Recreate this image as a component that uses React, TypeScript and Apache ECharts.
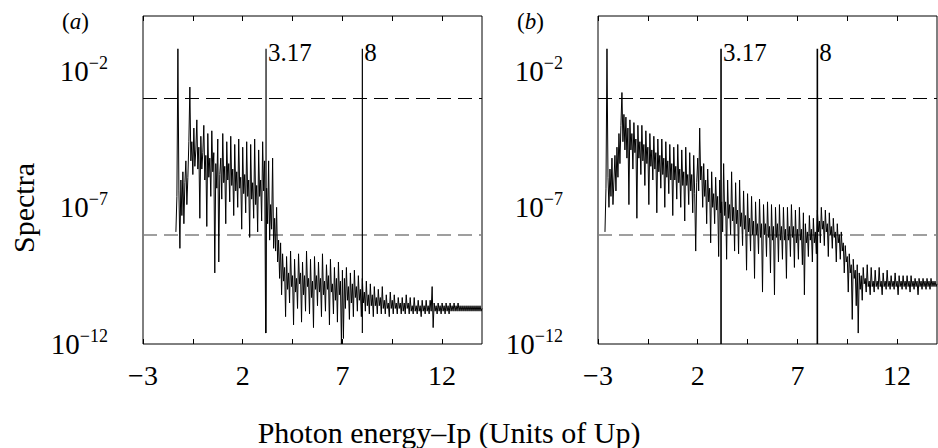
import React, { useEffect, useRef } from "react";
import * as echarts from "echarts";

// Axis settings (x in units of Up, y as log10 of the spectrum)
const X_MIN = -3;
const X_MAX = 14;
const X_LABELS = [-3, 2, 7, 12];
const X_TICKS = [-3, -0.5, 2, 4.5, 7, 9.5, 12];
const Y_MIN = -12;
const Y_MAX = 0;
const Y_LABELS = [-12, -7, -2];
const REF_LEVELS = [-3, -8];

// Cut-off markers
const MARKERS = [3.17, 8];
const MARKER_NAMES = ["3.17", "8"];
const MARKER_TOP = -1.2;
const MARKER_BOTTOM_A = -11.6;
const MARKER_BOTTOM_B = -12;

// Spectra, log10 values on a uniform energy grid (one row = 1 unit of Up)
const STEP = 0.05;
const A_START = -1.35;
const A_LOG = [
  -7.9, -6.6, -1.2, -6.4, -8.5, -6.0, -7.3, -5.7, -7.6, -6.1, -5.3, -6.9, -5.9, -4.6, -2.6, -5.3, -4.6, -5.8, -4.1, -5.5,
  -4.9, -3.8, -5.6, -4.8, -7.4, -4.4, -5.6, -5.0, -4.0, -6.0, -5.1, -7.7, -4.3, -5.9, -5.2, -6.6, -4.2, -5.7, -5.0, -9.4,
  -5.4, -6.3, -4.5, -9.0, -5.8, -5.2, -6.7, -4.3, -6.1, -5.5, -7.6, -4.6, -6.0, -5.4, -6.8, -4.4, -6.2, -5.6, -7.3, -4.7,
  -6.4, -5.7, -7.0, -4.5, -6.3, -5.9, -7.8, -4.8, -6.5, -5.8, -7.2, -4.6, -6.6, -6.0, -8.1, -4.7, -6.7, -6.1, -7.4, -4.5,
  -6.9, -6.2, -7.9, -4.9, -6.6, -6.0, -7.5, -4.6, -6.4, -5.3, -11.6, -6.3, -7.6, -5.3, -8.2, -6.9, -7.8, -5.2, -8.5, -7.4,
  -8.6, -7.0, -9.0, -8.2, -9.6, -8.3, -10.2, -8.7, -9.7, -9.2, -11.0, -8.8, -10.0, -9.4, -10.5, -8.6, -9.9, -9.5, -11.3, -8.9,
  -10.1, -9.6, -10.7, -8.7, -9.8, -9.4, -11.2, -9.0, -10.2, -9.5, -10.8, -8.6, -9.9, -9.6, -10.9, -8.9, -10.3, -9.7, -11.4, -8.8,
  -10.0, -9.5, -10.6, -9.0, -10.1, -9.6, -11.0, -8.7, -10.2, -9.7, -10.8, -9.1, -10.0, -9.5, -11.3, -8.9, -10.1, -9.8, -10.9, -9.2,
  -10.4, -9.6, -11.2, -9.0, -10.2, -9.7, -12.0, -9.3, -11.8, -9.6, -10.7, -9.2, -10.4, -9.9, -11.1, -9.4, -10.5, -9.8, -11.0, -9.3,
  -10.3, -9.9, -10.8, -9.5, -10.4, -10.0, -11.0, -9.6, -10.5, -10.1, -10.8, -9.7, -10.6, -10.2, -10.9, -9.8, -10.6, -10.2, -11.0, -9.9,
  -10.6, -10.3, -10.9, -10.0, -10.6, -10.3, -10.9, -9.9, -10.7, -10.4, -10.9, -10.2, -10.7, -10.5, -11.0, -10.1, -10.7, -10.4, -10.9, -10.2,
  -10.7, -10.5, -10.9, -10.3, -10.7, -10.5, -10.9, -10.3, -10.8, -10.5, -10.9, -10.2, -10.7, -10.5, -10.9, -10.3, -10.8, -10.6, -10.9, -10.3,
  -10.8, -10.6, -10.9, -10.4, -10.8, -10.6, -11.0, -10.4, -10.8, -10.6, -10.9, -10.4, -10.8, -10.6, -10.9, -10.4, -10.8, -9.9, -11.4, -10.5,
  -10.8, -10.6, -10.9, -10.5, -10.8, -10.6, -10.9, -10.5, -10.8, -10.6, -10.9, -10.5, -10.8, -10.6, -10.9, -10.5, -10.8, -10.6, -10.8, -10.5,
  -10.8, -10.6, -10.8, -10.5, -10.8, -10.6, -10.8, -10.6, -10.8, -10.6, -10.8, -10.6, -10.8, -10.6, -10.8, -10.6, -10.8, -10.6, -10.8, -10.6,
  -10.8, -10.6, -10.8, -10.6, -10.8, -10.6, -10.8, -10.7,
];
const B_START = -2.65;
const B_LOG = [
  -7.9, -6.3, -1.2, -5.9, -7.0, -5.6, -6.6, -5.2, -6.9, -6.0, -5.1, -6.4, -4.8, -5.9, -4.3, -5.4, -4.0, -2.8, -4.6, -3.6,
  -4.9, -3.7, -5.2, -4.1, -6.9, -3.8, -4.9, -4.3, -5.6, -3.9, -5.0, -4.5, -7.4, -4.0, -5.2, -4.6, -5.8, -4.0, -5.3, -4.7,
  -6.2, -4.2, -5.4, -4.8, -6.9, -4.3, -5.5, -4.9, -6.0, -4.4, -5.6, -5.0, -7.2, -4.5, -5.7, -5.1, -6.3, -4.5, -5.8, -5.2,
  -7.0, -4.6, -5.9, -5.3, -6.5, -4.7, -6.0, -5.4, -7.3, -4.8, -6.0, -5.5, -6.7, -4.7, -6.1, -5.6, -7.0, -4.9, -6.2, -5.7,
  -7.5, -4.8, -6.2, -5.8, -6.9, -5.0, -6.4, -5.8, -7.2, -5.1, -6.5, -8.6, -6.1, -5.2, -6.4, -4.1, -6.0, -5.5, -7.0, -5.4,
  -6.6, -6.0, -7.6, -5.6, -6.8, -6.3, -8.3, -5.7, -7.0, -6.5, -7.6, -5.9, -7.1, -6.6, -8.8, -6.0, -7.2, -6.8, -7.9, -5.4,
  -7.3, -6.8, -8.9, -6.0, -7.4, -6.9, -8.0, -5.7, -7.5, -7.0, -8.6, -6.1, -7.6, -7.1, -8.7, -6.0, -7.7, -7.2, -8.4, -6.4,
  -7.8, -7.3, -9.3, -6.5, -7.9, -7.4, -8.6, -6.6, -8.0, -7.5, -9.6, -6.8, -8.0, -7.6, -8.7, -6.7, -8.1, -7.6, -10.1, -6.9,
  -8.0, -7.6, -8.8, -6.8, -8.1, -7.7, -9.4, -6.9, -8.2, -7.7, -10.2, -7.0, -8.1, -7.6, -9.0, -6.9, -8.2, -7.7, -8.9, -7.0,
  -8.2, -7.8, -9.6, -7.0, -8.2, -7.7, -8.8, -6.9, -8.1, -7.7, -9.2, -7.1, -8.3, -7.8, -8.9, -7.0, -8.2, -7.8, -9.1, -7.2,
  -10.2, -7.6, -8.3, -7.9, -8.8, -7.3, -8.2, -7.8, -9.0, -7.4, -8.3, -7.9, -8.7, -7.1, -7.9, -7.5, -8.3, -7.0, -7.8, -7.5,
  -8.4, -7.1, -7.9, -7.6, -8.8, -7.2, -8.0, -7.7, -8.5, -7.4, -8.1, -7.9, -9.0, -7.6, -8.3, -8.0, -8.9, -7.9, -8.6, -8.3,
  -9.4, -8.4, -9.0, -8.8, -10.1, -8.7, -9.4, -9.1, -11.1, -8.9, -9.6, -9.3, -10.6, -9.1, -11.6, -9.4, -10.0, -9.5, -10.4, -9.2,
  -9.8, -9.6, -10.1, -9.1, -9.9, -9.7, -10.2, -9.2, -9.9, -9.7, -10.1, -9.3, -9.9, -9.7, -10.0, -9.2, -9.9, -9.7, -10.2, -9.4,
  -9.9, -9.7, -10.0, -9.3, -9.9, -9.7, -10.0, -9.5, -9.9, -9.7, -10.0, -9.4, -9.9, -9.7, -10.2, -9.5, -9.9, -9.7, -10.0, -9.5,
  -9.9, -9.7, -10.0, -9.5, -9.9, -9.7, -10.1, -9.5, -9.9, -9.7, -10.0, -9.6, -9.9, -9.7, -10.2, -9.6, -9.9, -9.7, -10.0, -9.6,
  -9.9, -9.7, -10.0, -9.6, -9.9, -9.7, -10.0, -9.6, -9.9, -9.7, -9.9, -9.7, -9.9, -9.8,
];

const FONT = "'Liberation Serif', 'Times New Roman', serif";

function toPairs(start: number, vals: number[]) {
  return vals.map((v, i) => [Number((start + i * STEP).toFixed(2)), v]);
}

function minusText(v: number) {
  return v < 0 ? "\u2212" + Math.abs(v) : String(v);
}

function buildOption() {
  const grids = [
    { left: 143, top: 16, width: 339, height: 328 },
    { left: 598, top: 16, width: 339, height: 328 },
  ].map((g) => ({
    ...g,
    show: true,
    borderColor: "#000",
    borderWidth: 1,
    backgroundColor: "transparent",
  }));

  const xAxis: any[] = [];
  const yAxis: any[] = [];
  [0, 1].forEach((g) => {
    xAxis.push({
      gridIndex: g,
      type: "value",
      min: X_MIN,
      max: X_MAX,
      position: "bottom",
      axisLine: { show: false, onZero: false },
      splitLine: { show: false },
      axisTick: {
        show: true,
        inside: true,
        length: 5,
        customValues: X_TICKS,
        lineStyle: { color: "#000", width: 1 },
      },
      axisLabel: {
        customValues: X_LABELS,
        formatter: (v: number) => minusText(v),
        fontFamily: FONT,
        fontSize: 28,
        color: "#000",
        margin: 17,
      },
    });
    xAxis.push({
      gridIndex: g,
      type: "value",
      min: X_MIN,
      max: X_MAX,
      position: "top",
      axisLine: { show: false, onZero: false },
      splitLine: { show: false },
      axisTick: {
        show: true,
        inside: true,
        length: 5,
        customValues: X_TICKS,
        lineStyle: { color: "#000", width: 1 },
      },
      axisLabel: { show: false },
    });
    yAxis.push({
      gridIndex: g,
      type: "value",
      min: Y_MIN,
      max: Y_MAX,
      interval: 1,
      axisLine: { show: false, onZero: false },
      axisTick: { show: false },
      splitLine: { show: false },
      axisLabel: {
        customValues: Y_LABELS,
        margin: 35,
        formatter: (v: number) => `{b|10}{e|\u2212${Math.abs(v)}}`,
        rich: {
          b: { fontFamily: FONT, fontSize: 29, color: "#000" },
          e: { fontFamily: FONT, fontSize: 18, color: "#000", padding: [0, 0, 16, 0] },
        },
      },
    });
  });

  const series: any[] = [];
  const spectra = [toPairs(A_START, A_LOG), toPairs(B_START, B_LOG)];
  [0, 1].forEach((g) => {
    series.push({
      type: "line",
      xAxisIndex: g * 2,
      yAxisIndex: g,
      data: spectra[g],
      showSymbol: false,
      symbol: "none",
      lineStyle: { color: "#000", width: 1 },
      z: 3,
      markLine: {
        z: 1,
        silent: true,
        symbol: "none",
        label: { show: false },
        data: [
          { yAxis: REF_LEVELS[0], lineStyle: { color: "#000", width: 1, type: [14, 7] } },
          { yAxis: REF_LEVELS[1], lineStyle: { color: "#808080", width: 1.6, type: [14, 7] } },
        ],
      },
    });
    MARKERS.forEach((m, k) => {
      series.push({
        type: "line",
        xAxisIndex: g * 2,
        yAxisIndex: g,
        data: [
          [m, g === 0 ? MARKER_BOTTOM_A : MARKER_BOTTOM_B],
          [m, MARKER_TOP],
        ],
        showSymbol: false,
        symbol: "none",
        z: 4,
        lineStyle: { color: "#000", width: g === 0 ? 1.2 : 1.6 },
        endLabel: {
          show: true,
          formatter: MARKER_NAMES[k],
          fontFamily: FONT,
          fontSize: 25,
          color: "#000",
          distance: 2,
          offset: [0, 4],
        },
      });
    });
  });

  const panelRich = {
    p: { fontFamily: FONT, fontSize: 23, color: "#000" },
    i: { fontFamily: FONT, fontSize: 23, fontStyle: "italic", color: "#000" },
  };

  return {
    animation: false,
    backgroundColor: "#fff",
    grid: grids,
    xAxis,
    yAxis,
    series,
    graphic: [
      {
        type: "text",
        left: 62,
        top: 10,
        style: { text: "{p|(}{i|a}{p|)}", rich: panelRich },
      },
      {
        type: "text",
        left: 517,
        top: 10,
        style: { text: "{p|(}{i|b}{p|)}", rich: panelRich },
      },
      {
        type: "text",
        x: 23,
        y: 208,
        rotation: Math.PI / 2,
        style: {
          text: "Spectra",
          fontFamily: FONT,
          fontSize: 30,
          fill: "#000",
          align: "center",
          verticalAlign: "middle",
        },
      },
      {
        type: "text",
        x: 449,
        y: 432,
        style: {
          text: "Photon energy\u2013Ip (Units of Up)",
          fontFamily: FONT,
          fontSize: 30,
          fill: "#000",
          align: "center",
          verticalAlign: "middle",
        },
      },
    ],
  };
}

export default function App() {
  const ref = useRef<HTMLDivElement>(null);
  useEffect(() => {
    if (!ref.current) return;
    const chart = echarts.init(ref.current, null, { renderer: "svg" });
    chart.setOption(buildOption() as any);
    return () => chart.dispose();
  }, []);
  return (
    <div
      ref={ref}
      style={{ position: "fixed", left: 0, top: 0, width: 938, height: 448, background: "#fff" }}
    />
  );
}
